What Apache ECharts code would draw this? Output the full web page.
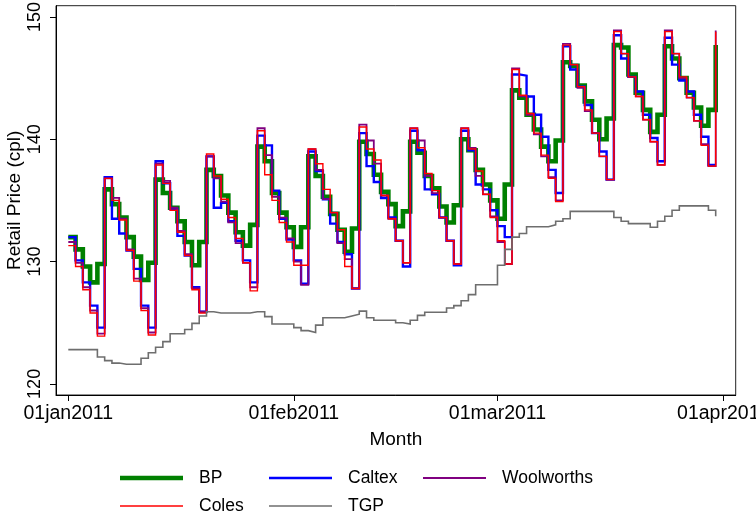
<!DOCTYPE html>
<html>
<head>
<meta charset="utf-8">
<script src="https://cdn.jsdelivr.net/npm/echarts@6/dist/echarts.min.js"></script>
<style>
html,body{margin:0;padding:0;background:#fff;}
#chart{width:756px;height:516px;}
</style>
</head>
<body>
<div id="chart"></div>
<script>
// Day index 0 = 01jan2011
const xTickDays = [0, 31, 59, 90];
const xTickLabels = ['01jan2011', '01feb2011', '01mar2011', '01apr2011'];
const yTicks = [120, 130, 140, 150];

const bp = [
  132.0, 131.0, 129.6, 128.3, 129.8,
  135.9, 134.7, 133.6, 132.0, 130.4, 128.5, 129.9,
  136.7, 135.6, 134.4, 133.3, 131.6, 129.7, 131.6,
  137.5, 137.0, 135.4, 134.0, 132.4, 131.3, 133.0,
  139.4, 138.2, 135.6, 134.0, 132.8, 131.2, 132.8,
  138.6, 137.0, 135.3, 133.9, 132.6, 130.8, 132.7,
  139.8, 138.8, 137.1, 135.7, 134.7, 132.9, 134.1,
  139.8, 138.9, 137.0, 136.0, 134.5, 133.2, 134.6,
  140.0, 139.1, 137.5, 136.3, 135.0, 133.5, 136.3,
  144.0, 143.4, 142.0, 140.8, 139.4, 138.2, 139.9,
  146.3, 146.0, 144.4, 143.1, 141.6, 140.0, 141.7,
  147.7, 147.5, 145.3, 143.8, 142.4, 140.6, 142.0,
  147.6, 146.6, 145.0, 143.8, 142.6, 141.1, 142.4,
  147.7
];
const caltex = [
  132.0, 130.1, 128.3, 126.4, 124.6,
  136.9, 133.5, 132.3, 130.9, 129.4, 126.4, 124.6,
  138.2, 136.4, 134.3, 132.1, 130.5, 127.9, 125.9,
  138.6, 134.4, 134.8, 133.3, 131.7, 130.1, 128.3,
  140.3, 139.5, 135.8, 133.5, 131.8, 130.1, 128.2,
  139.0, 137.4, 135.1, 133.1, 131.6, 130.6, 127.8,
  140.5, 137.8, 136.5, 135.2, 133.6, 131.7, 129.6,
  140.7, 139.1, 135.9, 135.5, 133.6, 131.7, 129.7,
  140.7, 139.1, 136.3, 135.9, 134.2, 132.9, 132.0,
  145.3, 145.2, 143.5, 142.0, 140.2, 137.5, 135.6,
  147.6, 145.7, 144.3, 142.8, 140.5, 139.0, 136.7,
  148.5, 146.6, 145.1, 143.9, 142.0, 140.1, 138.2,
  148.3, 146.1, 144.8, 143.9, 142.0, 140.2, 137.9,
  137.9
];
const woolworths = [
  131.6, 129.9, 127.9, 126.0, 124.1,
  136.8, 135.2, 133.5, 131.0, 128.6, 126.2, 124.2,
  138.0, 136.6, 134.4, 132.5, 130.6, 127.8, 125.9,
  138.6, 136.8, 134.9, 133.2, 131.5, 129.9, 127.9,
  140.9, 138.7, 135.3, 133.6, 131.9, 130.0, 128.1,
  139.2, 137.5, 135.1, 134.0, 131.5, 130.2, 127.8,
  141.2, 139.9, 138.0, 135.4, 133.5, 131.7, 129.9,
  140.9, 139.9, 137.0, 135.6, 133.6, 131.7, 129.8,
  140.9, 139.3, 137.0, 135.5, 133.7, 131.6, 129.8,
  145.8, 143.5, 142.0, 140.4, 138.6, 136.9, 135.0,
  147.8, 146.1, 144.2, 142.3, 140.5, 138.6, 136.7,
  148.9, 147.0, 145.1, 143.5, 141.6, 139.8, 137.9,
  148.9, 147.0, 145.0, 143.4, 141.5, 139.6, 137.8,
  148.9
];
const coles = [
  131.3, 129.6, 127.7, 125.8, 123.9,
  136.8, 135.0, 133.4, 130.9, 128.4, 126.0, 124.0,
  137.9, 136.4, 134.2, 132.4, 130.5, 127.7, 125.8,
  138.8, 137.0, 135.1, 133.6, 131.9, 129.9, 127.6,
  140.7, 137.1, 135.0, 133.2, 131.6, 129.7, 129.7,
  139.2, 138.0, 135.9, 134.0, 132.6, 129.6, 127.8,
  141.0, 139.2, 138.3, 135.4, 133.5, 131.7, 129.9,
  140.9, 139.3, 137.2, 135.8, 133.6, 131.7, 129.8,
  140.9, 139.2, 137.4, 135.5, 133.6, 131.7, 129.8,
  145.7, 143.6, 142.1, 140.5, 138.7, 136.8, 134.9,
  147.7, 146.1, 144.3, 142.4, 140.5, 138.6, 136.7,
  148.8, 147.0, 145.1, 143.5, 141.6, 139.8, 137.9,
  148.8, 147.0, 145.1, 143.4, 141.5, 139.5, 137.8,
  148.8
];
const tgp = [
  122.8, 122.8, 122.8, 122.8, 122.2, 121.9, 121.7, 121.6, 121.6, 121.6,
  122.1, 122.55, 123.0, 123.45, 124.1, 124.1, 124.45, 124.95, 125.55, 125.9,
  125.8, 125.8, 125.8, 125.8, 125.8, 125.9, 125.9, 125.5, 124.9, 124.9,
  124.9, 124.6, 124.35, 124.2, 124.8, 125.4, 125.4, 125.4, 125.55, 125.7,
  125.95, 125.4, 125.2, 125.2, 125.2, 125.0, 124.9, 125.2, 125.6, 125.85,
  125.85, 125.85, 126.2, 126.4, 126.8, 127.3, 128.1, 128.1, 128.1, 129.7,
  131.0, 132.0, 132.3, 132.85, 132.85, 132.85, 133.0, 133.3, 133.5, 134.1,
  134.1, 134.1, 134.1, 134.1, 134.1, 133.6, 133.3, 133.1, 133.1, 133.1,
  132.8, 133.3, 133.7, 134.2, 134.55, 134.55, 134.55, 134.55, 134.2, 133.7
];

const seriesNames = ['BP', 'Caltex', 'Woolworths', 'Coles', 'TGP'];
const seriesValues = [bp, caltex, woolworths, coles, tgp];
const seriesColors = ['#008000', '#0000ff', '#800080', '#ff0000', '#6e6e6e'];
const seriesWidths = [4.6, 2.4, 1.8, 1.4, 1.6];

const FONT = '"Liberation Sans", Arial, Helvetica, sans-serif';

const chart = echarts.init(document.getElementById('chart'), null, {renderer: 'canvas'});

const series = seriesNames.map((name, i) => ({
  name: name,
  type: 'line',
  step: 'end',
  showSymbol: false,
  symbol: 'none',
  animation: false,
  data: seriesValues[i].map((v, d) => [d, v]),
  lineStyle: {color: seriesColors[i], width: seriesWidths[i], join: 'miter', cap: 'butt'},
  itemStyle: {color: seriesColors[i]},
  z: 2 + i
}));

// legend layout: [name, left, top-center]
const legendPos = [
  ['BP', 120, 478],
  ['Caltex', 269, 478],
  ['Woolworths', 423, 478],
  ['Coles', 120, 506],
  ['TGP', 269, 506]
];
const legends = legendPos.map(([name, left, cy]) => {
  const i = seriesNames.indexOf(name);
  return {
    data: [name],
    left: left,
    top: cy - 10,
    padding: 0,
    icon: 'rect',
    itemWidth: 63,
    itemHeight: Math.max(1.5, seriesWidths[i]),
    selectedMode: false,
    textStyle: {fontFamily: FONT, fontSize: 17.5, color: '#000', padding: [0, 0, 0, 11], lineHeight: 20}
  };
});

chart.setOption({
  animation: false,
  backgroundColor: '#fff',
  grid: {
    left: 56, right: 20.3, top: 5.7, bottom: 121,
    show: true, borderColor: '#222', borderWidth: 1,
    containLabel: false,
    outerBoundsMode: 'none'
  },
  legend: legends,
  xAxis: {
    type: 'value',
    min: -1.69, max: 91.75,
    name: 'Month',
    nameLocation: 'middle',
    nameGap: 35,
    nameMoveOverlap: false,
    nameTextStyle: {fontFamily: FONT, fontSize: 19, color: '#000'},
    axisLine: {show: true, onZero: false, lineStyle: {color: '#000', width: 1}},
    axisTick: {show: true, length: 6, inside: false, customValues: xTickDays, lineStyle: {color: '#000'}},
    axisLabel: {
      customValues: xTickDays,
      formatter: (v) => xTickLabels[xTickDays.indexOf(Math.round(v))] || '',
      fontFamily: FONT, fontSize: 19.5, color: '#000', margin: 9,
      showMinLabel: true, showMaxLabel: true, hideOverlap: false
    },
    splitLine: {show: false}
  },
  yAxis: {
    type: 'value',
    min: 119.09, max: 150.92,
    name: 'Retail Price (cpl)',
    nameLocation: 'middle',
    nameGap: 32,
    nameMoveOverlap: false,
    nameRotate: 90,
    nameTextStyle: {fontFamily: FONT, fontSize: 19, color: '#000'},
    axisLine: {show: true, onZero: false, lineStyle: {color: '#000', width: 1}},
    axisTick: {show: true, length: 6, inside: false, customValues: yTicks, lineStyle: {color: '#000'}},
    axisLabel: {
      customValues: yTicks,
      rotate: 90,
      fontFamily: FONT, fontSize: 18, color: '#000', margin: 12,
      showMinLabel: true, showMaxLabel: true
    },
    splitLine: {show: false}
  },
  series: series
});
</script>
</body>
</html>
